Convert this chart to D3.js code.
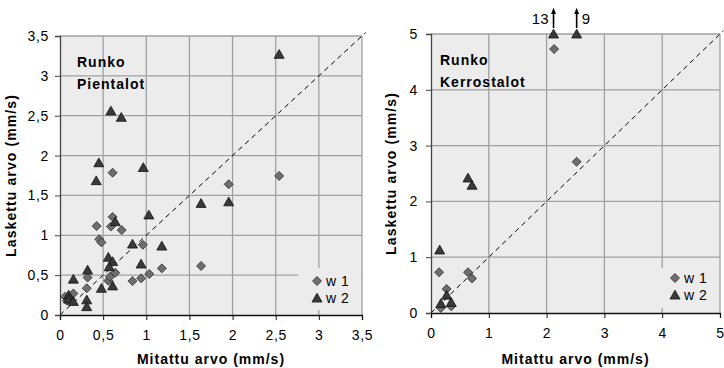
<!DOCTYPE html>
<html lang="fi">
<head>
<meta charset="utf-8">
<title>Runko - mitattu ja laskettu arvo</title>
<script src="https://cdn.jsdelivr.net/npm/d3@7"></script>
<style>
    body { margin: 0; background: #fff; }
    svg { font-family: "Liberation Sans", Arial, sans-serif; }
    .tick text { font-size: 14px; fill: #000; letter-spacing: 0.7px; }
</style>
</head>
<body>
<svg id="chart" width="724" height="368"></svg>
<script>

    // Pientalot (left) - [mitattu, laskettu]
    var pientW1 = [[0.06, 0.23], [0.08, 0.18], [0.155, 0.27], [0.31, 0.335], [0.32, 0.47],
        [0.425, 1.115], [0.455, 0.95], [0.48, 0.91], [0.56, 0.43], [0.58, 0.48], [0.64, 0.53],
        [0.59, 1.11], [0.61, 1.23], [0.61, 1.785], [0.715, 1.065], [0.84, 0.425], [0.94, 0.46],
        [0.96, 0.88], [1.035, 0.515], [1.18, 0.585], [1.635, 0.615], [1.955, 1.64], [2.54, 1.745]];
    var pientW2 = [[0.1, 0.25], [0.1, 0.2], [0.155, 0.45], [0.155, 0.17], [0.31, 0.19],
        [0.31, 0.105], [0.32, 0.565], [0.48, 0.335], [0.61, 0.365], [0.42, 1.685], [0.45, 1.91],
        [0.59, 2.56], [0.71, 2.48], [0.965, 1.85], [0.64, 1.17], [1.03, 1.255], [0.56, 0.725],
        [0.61, 0.67], [0.57, 0.605], [0.84, 0.89], [0.94, 0.64], [1.18, 0.865], [1.635, 1.4],
        [1.955, 1.42], [2.54, 3.27]];

    // Kerrostalot (right)
    var kerrosW1 = [[0.14, 0.73], [0.64, 0.73], [0.71, 0.62], [0.27, 0.43], [0.17, 0.09],
        [0.35, 0.12], [2.13, 4.73], [2.52, 2.71]];
    var kerrosW2 = [[0.64, 2.42], [0.71, 2.29], [0.15, 1.13], [0.27, 0.32], [0.17, 0.17],
        [0.35, 0.19], [2.12, 13], [2.52, 9]];

    var pientTicks = [0, 0.5, 1, 1.5, 2, 2.5, 3, 3.5];
    var kerrosTicks = [0, 1, 2, 3, 4, 5];
    var seriesNames = ["w 1", "w 2"];

    var svg = d3.select("#chart");
    var fmt = function (d) { return String(d).replace(".", ","); };

    // excel-like marker shapes
    var diamondPath = "M0,-4.5L4.5,0L0,4.5L-4.5,0Z";
    var triPath = "M0,-4.8L5,4L-5,4Z";

    function drawPanel(p) {
        var x = d3.scaleLinear().domain([0, p.max]).range(p.xr);
        var y = d3.scaleLinear().domain([0, p.max]).range(p.yr);
        var g = svg.append("g");

        // plot background + grid
        g.append("rect")
            .attr("x", p.xr[0]).attr("y", p.yr[1])
            .attr("width", p.xr[1] - p.xr[0]).attr("height", p.yr[0] - p.yr[1])
            .style("fill", "#ececec");

        g.selectAll(".gx").data(p.ticks.slice(1)).enter().append("line")
            .attr("x1", d => x(d)).attr("x2", d => x(d))
            .attr("y1", p.yr[0]).attr("y2", p.yr[1])
            .style("stroke", "#a0a0a0").style("stroke-width", 1.3);
        g.selectAll(".gy").data(p.ticks.slice(1)).enter().append("line")
            .attr("x1", p.xr[0]).attr("x2", p.xr[1])
            .attr("y1", d => y(d)).attr("y2", d => y(d))
            .style("stroke", "#a0a0a0").style("stroke-width", 1.3);

        // legend box (covers grid)
        g.append("rect")
            .attr("x", p.leg[0]).attr("y", p.leg[1])
            .attr("width", p.leg[2]).attr("height", p.leg[3])
            .style("fill", "#ececec");

        // axes
        var xa = g.append("g").attr("transform", "translate(0," + p.yr[0] + ")")
            .call(d3.axisBottom(x).tickValues(p.ticks).tickFormat(fmt).tickSize(5).tickPadding(10));
        var ya = g.append("g").attr("transform", "translate(" + p.xr[0] + ",0)")
            .call(d3.axisLeft(y).tickValues(p.ticks).tickFormat(fmt).tickSize(5).tickPadding(p.ypad));
        xa.select(".domain").style("stroke", "#111").style("stroke-width", 1.3);
        ya.select(".domain").style("stroke", "#444").style("stroke-width", 1.3);
        xa.selectAll(".tick line").style("stroke", "#111");
        ya.selectAll(".tick line").style("stroke", "#444");
        xa.selectAll("text").style("font-family", null);
        ya.selectAll("text").style("font-family", null);

        // 1:1 line
        var ext = p.max * 1.012;
        g.append("line")
            .attr("x1", x(0)).attr("y1", y(0)).attr("x2", x(ext)).attr("y2", y(ext))
            .style("stroke", "#000").style("stroke-width", 1).style("stroke-dasharray", "5,4");

        // markers
        g.selectAll(".w1").data(p.w1).enter().append("path")
            .attr("d", diamondPath)
            .attr("transform", d => "translate(" + x(d[0]) + "," + y(Math.min(d[1], p.max)) + ")")
            .style("fill", "#6f6f6f").style("stroke", "#2a2a2a").style("stroke-width", 0.8);
        g.selectAll(".w2").data(p.w2).enter().append("path")
            .attr("d", triPath)
            .attr("transform", d => "translate(" + x(d[0]) + "," + y(Math.min(d[1], p.max)) + ")")
            .style("fill", "#3a3a3a").style("stroke", "#111").style("stroke-width", 0.8);

        // off-scale annotations
        p.w2.filter(d => d[1] > p.max).forEach(function (d, i) {
            var ax = x(d[0]);
            g.append("line").attr("x1", ax).attr("x2", ax).attr("y1", 28).attr("y2", 11)
                .style("stroke", "#000").style("stroke-width", 1.6)
                .attr("marker-end", "url(#arrow)");
            g.append("text").attr("x", i === 0 ? ax - 5 : ax + 5).attr("y", 24)
                .attr("text-anchor", i === 0 ? "end" : "start")
                .style("font-size", "15px").text(fmt(d[1]));
        });

        // legend
        var lx = p.leg[0] + p.legDx;
        [0, 1].forEach(function (i) {
            var ly = p.leg[1] + p.legDy + i * 17;
            g.append("path").attr("d", i === 0 ? diamondPath : triPath)
                .attr("transform", "translate(" + lx + "," + ly + ")")
                .style("fill", i === 0 ? "#6f6f6f" : "#3a3a3a")
                .style("stroke", i === 0 ? "#2a2a2a" : "#111").style("stroke-width", 0.8);
            g.append("text").attr("x", lx + 9).attr("y", ly + 5)
                .style("font-size", "14px").style("letter-spacing", "0.5px").text(seriesNames[i]);
        });

        // titles
        p.title.forEach(function (t, i) {
            g.append("text").attr("x", p.titlePos[0]).attr("y", p.titlePos[1] + i * 22)
                .style("font-size", "14px").style("font-weight", "bold")
                .style("letter-spacing", "1px").text(t);
        });

        // axis labels
        g.append("text").attr("x", (p.xr[0] + p.xr[1]) / 2).attr("y", 364)
            .attr("text-anchor", "middle").style("font-size", "14px").style("font-weight", "bold")
            .style("letter-spacing", "1px")
            .text("Mitattu arvo (mm/s)");
        g.append("text")
            .attr("transform", "translate(" + p.ylabX + "," + (p.yr[0] + p.yr[1]) / 2 + ") rotate(-90)")
            .attr("text-anchor", "middle").style("font-size", "14px").style("font-weight", "bold")
            .style("letter-spacing", "1.1px")
            .text("Laskettu arvo (mm/s)");
    }

    svg.append("defs").append("marker")
        .attr("id", "arrow").attr("viewBox", "0 0 10 10").attr("refX", 5).attr("refY", 5)
        .attr("markerWidth", 4).attr("markerHeight", 4).attr("orient", "auto")
        .append("path").attr("d", "M0,1 L10,5 L0,9 Z").style("fill", "#000");

    drawPanel({
        max: 3.5, ticks: pientTicks, xr: [60, 362], yr: [315, 36], ypad: 6,
        w1: pientW1, w2: pientW2, leg: [298, 268, 63, 42], legDx: 19, legDy: 13,
        title: ["Runko", "Pientalot"], titlePos: [77, 67], ylabX: 16
    });
    drawPanel({
        max: 5, ticks: kerrosTicks, xr: [431, 720], yr: [313, 34], ypad: 8,
        w1: kerrosW1, w2: kerrosW2, leg: [661, 268, 58, 40], legDx: 14, legDy: 10,
        title: ["Runko", "Kerrostalot"], titlePos: [440, 65], ylabX: 396
    });

</script>
</body>
</html>
